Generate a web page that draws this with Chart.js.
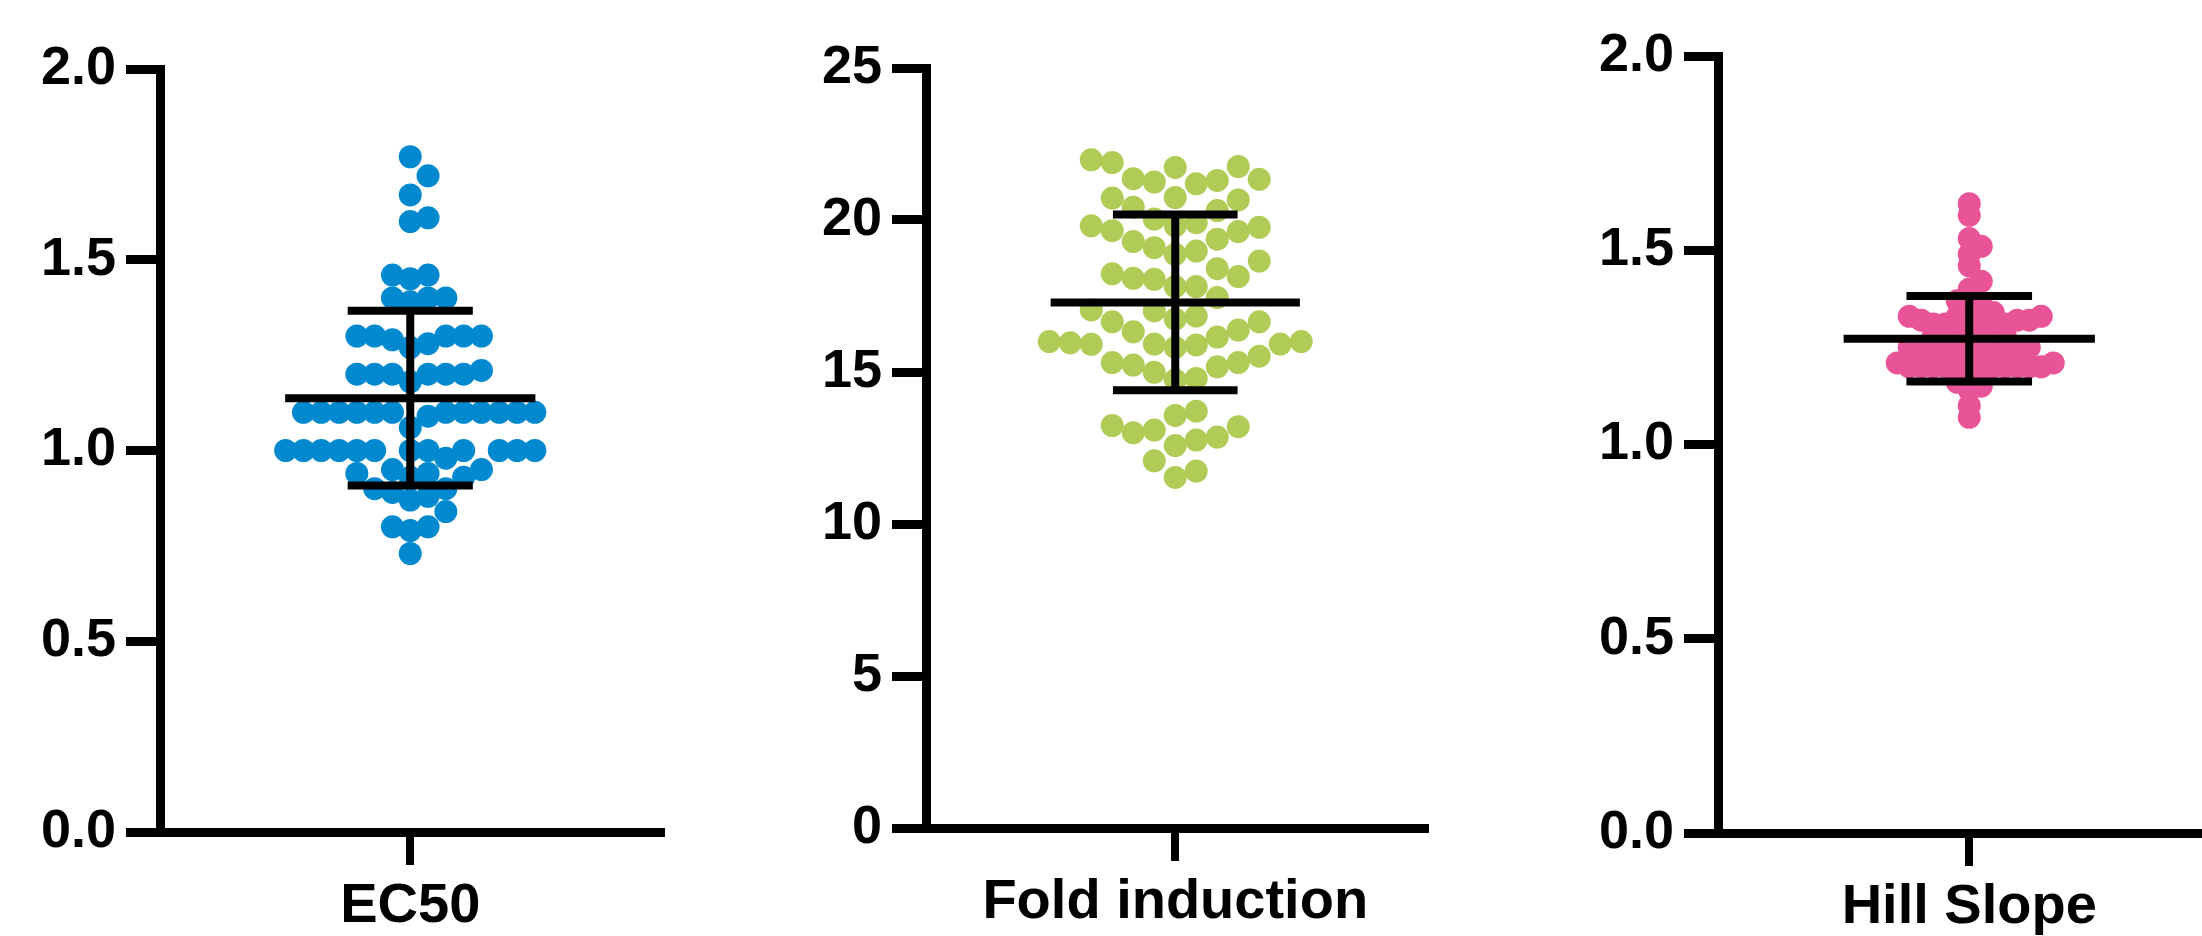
<!DOCTYPE html>
<html lang="en">
<head>
<meta charset="UTF-8">
<title>EC50 / Fold induction / Hill Slope</title>
<style>
  html, body { margin: 0; padding: 0; background: #fff; overflow: hidden; }
  #wrap { position: relative; width: 2202px; height: 936px; overflow: hidden; }
  #wrap canvas { position: absolute; top: 0; }
</style>
</head>
<body>
<div id="wrap">
  <canvas id="chartEc50"></canvas>
  <canvas id="chartFold"></canvas>
  <canvas id="chartHill"></canvas>
</div>
<script src="https://cdn.jsdelivr.net/npm/chart.js"></script>
<script>
// one column per panel
const categories = ['EC50', 'Fold induction', 'Hill Slope'];

const ec50Values = [
  1.77, 1.72, 1.67, 1.61, 1.60, 1.45, 1.46, 1.46, 1.39, 1.40, 1.40, 1.40,
  1.28, 1.27, 1.30, 1.30, 1.30, 1.30, 1.30, 1.29,
  1.20, 1.20, 1.20, 1.20, 1.20, 1.20, 1.21, 1.18,
  1.10, 1.10, 1.10, 1.10, 1.10, 1.10, 1.10, 1.10, 1.10, 1.10, 1.10, 1.10, 1.09, 1.06,
  1.00, 1.00, 1.00, 1.00, 1.00, 1.00, 1.00, 1.00, 1.00, 1.00, 1.00, 1.00, 0.98,
  0.93, 0.93, 0.95, 0.94, 0.94, 0.95,
  0.90, 0.88, 0.87, 0.89, 0.90, 0.84, 0.80, 0.80, 0.79, 0.73
];

const foldValues = [
  21.76, 21.73, 21.89, 21.98, 21.30, 21.25, 21.19, 21.36, 21.34,
  20.72, 20.74, 20.66, 20.42, 20.31,
  19.81, 19.81, 19.91, 19.62, 19.76, 19.65, 20.03,
  19.37, 19.09, 19.29, 18.87, 18.98,
  18.65, 18.40, 18.14, 18.08, 18.23, 18.05, 17.81, 17.81,
  17.45, 17.04, 16.84, 17.01, 16.74, 16.65, 16.65, 16.15, 16.32, 16.38,
  15.92, 15.89, 15.96, 16.00, 15.92, 16.00, 15.91, 15.81,
  15.52, 15.17, 14.99, 15.23, 15.31, 15.31, 14.79, 14.74,
  13.57, 13.71, 13.24, 13.09, 13.20, 13.00, 12.76, 12.86, 12.58,
  12.08, 11.74, 11.53
];

const hillValues = [
  1.62, 1.59, 1.53, 1.51, 1.49, 1.46, 1.42, 1.40, 1.37,
  1.36, 1.35, 1.34, 1.33, 1.33, 1.33, 1.33, 1.32, 1.32, 1.32, 1.32,
  1.31, 1.31, 1.31, 1.31, 1.30, 1.30,
  1.29, 1.28, 1.28, 1.27, 1.27, 1.26, 1.26, 1.26, 1.25, 1.25,
  1.24, 1.24, 1.24, 1.24, 1.24, 1.23, 1.23, 1.23, 1.23,
  1.21, 1.21, 1.21, 1.20, 1.20, 1.20, 1.20, 1.20, 1.20,
  1.20, 1.20, 1.20, 1.20, 1.20,
  1.18, 1.17, 1.16, 1.15, 1.14, 1.10, 1.07
];

// mean and SD as drawn by the error bars
const meanValues = [1.137, 17.29, 1.272];
const sdValues = [0.229, 2.89, 0.11];

// y axis range and tick step
const axisMax = [2, 25, 2];
const axisStep = [0.5, 5, 0.5];

const allValues = [ec50Values, foldValues, hillValues];

// page layout of each panel (pixels)
const panels = [
  { id: 'chartEc50', left: 0, width: 672, axisX: 160, top: 69, bottom: 832, color: '#0089CF', step: 17.8, gap: 20, decimals: 1 },
  { id: 'chartFold', left: 740, width: 696, axisX: 186, top: 68, bottom: 828, color: '#B1CC56', step: 21, gap: 28, decimals: 0 },
  { id: 'chartHill', left: 1480, width: 752, axisX: 238, top: 56, bottom: 833, color: '#E85497', step: 12, gap: 11, decimals: 1 }
];

const fontFamily = "'Liberation Sans', Arial, Helvetica, sans-serif";

// mean line + SD whiskers
const errorBars = {
  id: 'errorBars',
  afterDatasetsDraw(chart, args, opts) {
    const ctx = chart.ctx;
    const x = chart.scales.x;
    const y = chart.scales.y;
    const m = y.getPixelForValue(opts.mean);
    const hi = y.getPixelForValue(opts.mean + opts.sd);
    const lo = y.getPixelForValue(opts.mean - opts.sd);
    const cx = x.getPixelForValue(0);
    ctx.save();
    ctx.strokeStyle = '#000';
    ctx.lineWidth = 8;
    ctx.lineCap = 'butt';
    ctx.beginPath();
    ctx.moveTo(x.getPixelForValue(-0.5), m);
    ctx.lineTo(x.getPixelForValue(0.5), m);
    ctx.moveTo(x.getPixelForValue(-0.25), hi);
    ctx.lineTo(x.getPixelForValue(0.25), hi);
    ctx.moveTo(x.getPixelForValue(-0.25), lo);
    ctx.lineTo(x.getPixelForValue(0.25), lo);
    ctx.moveTo(cx, hi);
    ctx.lineTo(cx, lo);
    ctx.stroke();
    ctx.restore();
  }
};

// spread the dots sideways so they don't pile up (beeswarm)
function swarm(chart, values, stepPx, gapPx) {
  const xs = chart.scales.x;
  const ys = chart.scales.y;
  const unit = xs.getPixelForValue(1) - xs.getPixelForValue(0);
  const order = values.map((v, i) => i).sort((a, b) => values[a] - values[b]);
  const placed = [];
  const out = new Array(values.length);
  order.forEach(i => {
    const py = ys.getPixelForValue(values[i]);
    for (let k = 0; k < 200; k++) {
      const off = (k % 2 ? 1 : -1) * Math.ceil(k / 2) * stepPx / 2;
      const free = placed.every(q => Math.abs(q.x - off) >= stepPx - 0.01 || Math.abs(q.y - py) >= gapPx);
      if (free) {
        placed.push({ x: off, y: py });
        out[i] = { x: off / unit, y: values[i] };
        break;
      }
    }
  });
  chart.data.datasets[0].data = out;
  chart.update('none');
}

panels.forEach((p, i) => {
  const canvas = document.getElementById(p.id);
  canvas.width = p.width;
  canvas.height = 936;
  canvas.style.left = p.left + 'px';
  canvas.style.width = p.width + 'px';
  canvas.style.height = '936px';

  const chart = new Chart(canvas, {
    type: 'scatter',
    data: {
      datasets: [{
        data: allValues[i].map(v => ({ x: 0, y: v })),
        backgroundColor: p.color,
        borderWidth: 0,
        pointRadius: 11.5,
        pointHoverRadius: 11.5,
        clip: false
      }]
    },
    options: {
      responsive: false,
      devicePixelRatio: 1,
      animation: false,
      events: [],
      layout: { padding: { top: p.top, bottom: 0, left: 0, right: 0 } },
      plugins: {
        legend: { display: false },
        tooltip: { enabled: false },
        errorBars: { mean: meanValues[i], sd: sdValues[i] }
      },
      scales: {
        x: {
          type: 'linear',
          min: -1,
          max: 1,
          afterBuildTicks: s => { s.ticks = [{ value: 0 }]; },
          afterFit: s => { s.height = 936 - p.bottom; },
          ticks: {
            callback: () => categories[i],
            font: { family: fontFamily, size: 56, weight: 'bold' },
            color: '#000',
            padding: 8,
            maxRotation: 0,
            autoSkip: false
          },
          grid: { drawOnChartArea: false, tickLength: 33, lineWidth: 8, tickWidth: 8, tickColor: '#000' },
          border: { color: '#000', width: 9 }
        },
        y: {
          min: 0,
          max: axisMax[i],
          afterFit: s => { s.width = p.axisX; },
          ticks: {
            stepSize: axisStep[i],
            callback: v => v.toFixed(p.decimals),
            font: { family: fontFamily, size: 54, weight: 'bold' },
            color: '#000',
            padding: 10
          },
          grid: { drawOnChartArea: false, tickLength: 34, lineWidth: 9, tickWidth: 9, tickColor: '#000' },
          border: { color: '#000', width: 9 }
        }
      }
    },
    plugins: [errorBars]
  });

  swarm(chart, allValues[i], p.step, p.gap);
});
</script>
</body>
</html>
